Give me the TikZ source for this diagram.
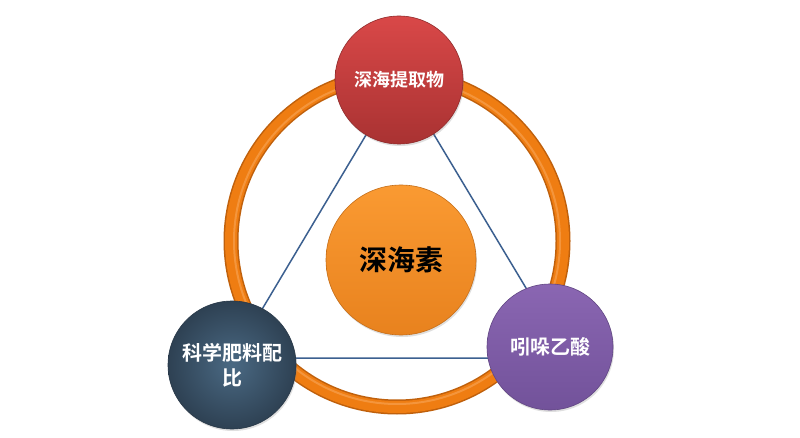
\documentclass[tikz,border=0pt]{standalone}
\usepackage{fontspec}
\newfontfamily\cjk{Noto Sans CJK SC}[BoldFont={Noto Sans CJK SC Bold}]
\usetikzlibrary{shadows}
\definecolor{ringdark}{HTML}{BF600C}
\definecolor{ringmain}{HTML}{EF7D12}
\definecolor{ringlight}{HTML}{F8A658}
\definecolor{connc}{HTML}{3C6090}
\definecolor{redtop}{HTML}{D94848}
\definecolor{redbot}{HTML}{A93232}
\definecolor{orgtop}{HTML}{FA9A32}
\definecolor{orgbot}{HTML}{E8821E}
\definecolor{purtop}{HTML}{8A66B2}
\definecolor{purbot}{HTML}{72529A}
\definecolor{slin}{HTML}{4A6983}
\definecolor{slout}{HTML}{2E4153}
\tikzset{
  bubble/.style={circle, inner sep=0pt, align=center, text=white,
    drop shadow={opacity=0.25, shadow xshift=1pt, shadow yshift=-2pt}},
  conn/.style={draw=connc, line width=1.5pt},
}
\begin{document}
\begin{tikzpicture}[x=1pt,y=-1pt]
\useasboundingbox (0,0) rectangle (800,438);
\fill[white] (0,0) rectangle (800,438);
% ring
\draw[ringdark, line width=15pt] (397,241) circle [radius=166];
\draw[ringmain, line width=12pt] (397,241) circle [radius=166];
\draw[ringlight, line width=2pt, opacity=0.6] (397,241) circle [radius=163];
% triangle
\coordinate (vt) at (400,78);
\coordinate (vl) at (233,358);
\coordinate (vr) at (568,358);
\draw[conn] (vt) -- (vl) -- (vr) -- cycle;
% circles
\node[bubble, minimum size=150pt, top color=orgtop, bottom color=orgbot,
  draw=orgbot!85!black, line width=0.6pt, text=black,
  font=\cjk\bfseries\fontsize{28}{32}\selectfont] (ctr) at (401,260) {深海素};
\node[bubble, minimum size=128pt, top color=redtop, bottom color=redbot,
  draw=redbot!85!black, line width=0.6pt,
  font=\cjk\bfseries\fontsize{18}{22}\selectfont] (top) at (399,80) {深海提取物};
\node[bubble, minimum size=128pt, inner color=slin, outer color=slout,
  draw=slout!85!black, line width=0.6pt,
  font=\cjk\bfseries\fontsize{20}{25}\selectfont] (bl) at (232,365) {科学肥料配\\比};
\node[bubble, minimum size=126pt, top color=purtop, bottom color=purbot,
  draw=purbot!85!black, line width=0.6pt,
  font=\cjk\bfseries\fontsize{20}{24}\selectfont] (br) at (550,347) {吲哚乙酸};
\end{tikzpicture}
\end{document}
